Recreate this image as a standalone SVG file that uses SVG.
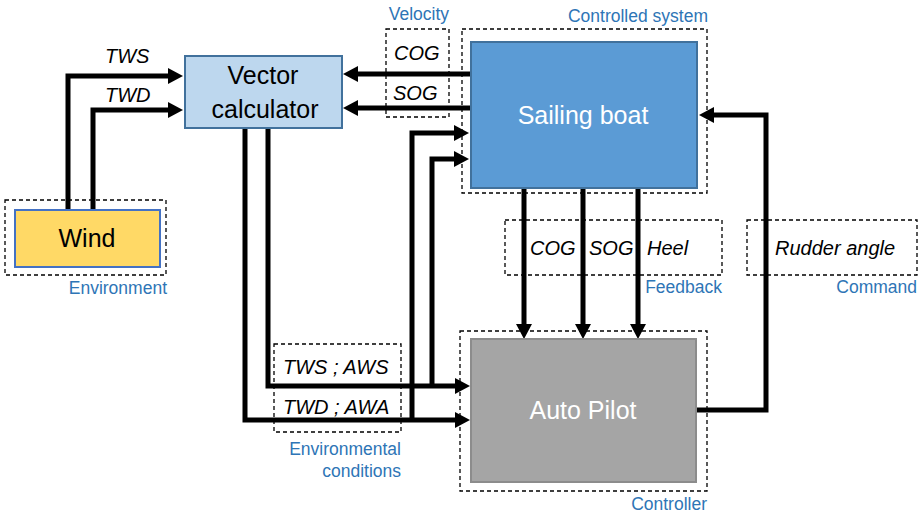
<svg xmlns="http://www.w3.org/2000/svg" width="919" height="514" viewBox="0 0 919 514">
<style>
.dash{fill:none;stroke:#000;stroke-width:1.3;stroke-dasharray:4,3}
.conn{fill:none;stroke:#000;stroke-width:5;marker-end:url(#ah)}
.big{font-family:"Liberation Sans",Arial,sans-serif;font-size:25px;text-anchor:middle}
.lbl{font-family:"Liberation Sans",Arial,sans-serif;font-size:20px;font-style:italic;fill:#000}
.grp{font-family:"Liberation Sans",Arial,sans-serif;font-size:17.5px;fill:#2E75B6;text-anchor:end}
</style>
<defs>
<marker id="ah" markerUnits="userSpaceOnUse" markerWidth="16" markerHeight="17" refX="5" refY="8" orient="auto">
<path d="M0,0 L15,8 L0,16 z" fill="#000"/>
</marker>
</defs>
<rect width="919" height="514" fill="#fff"/>

<g id="group-boxes">
<rect class="dash" x="5" y="200" width="161" height="75"/>
<text class="grp" x="167" y="294">Environment</text>
<rect class="dash" x="386" y="29" width="63" height="88"/>
<text class="grp" x="449" y="20">Velocity</text>
<rect class="dash" x="462" y="29" width="245" height="164"/>
<text class="grp" x="708" y="22">Controlled system</text>
<rect class="dash" x="505" y="220" width="217" height="55"/>
<text class="grp" x="722" y="293">Feedback</text>
<rect class="dash" x="747" y="220" width="170" height="55"/>
<text class="grp" x="917" y="293">Command</text>
<rect class="dash" x="274" y="344" width="127" height="88"/>
<text class="grp" x="401" y="455">Environmental</text>
<text class="grp" x="401" y="477">conditions</text>
<rect class="dash" x="460" y="331" width="247" height="160"/>
<text class="grp" x="707" y="510">Controller</text>
</g>

<g id="connectors">
<path class="conn" d="M68,209 V76 H173"/>
<path class="conn" d="M93,209 V110 H173"/>
<path class="conn" d="M470,74 H353"/>
<path class="conn" d="M470,108 H353"/>
<path class="conn" d="M268,128 V386 H460"/>
<path class="conn" d="M245,128 V420 H460"/>
<path class="conn" d="M432,386 V159 H459"/>
<path class="conn" d="M412,420 V133 H459"/>
<path class="conn" d="M524,188 V329"/>
<path class="conn" d="M583,188 V329"/>
<path class="conn" d="M638,188 V329"/>
<path class="conn" d="M696,410 H766 V115 H709"/>
</g>

<g id="labels">
<text class="lbl" x="105" y="63">TWS</text>
<text class="lbl" x="105" y="102">TWD</text>
<text class="lbl" x="394" y="60">COG</text>
<text class="lbl" x="393" y="100">SOG</text>
<text class="lbl" x="530" y="255">COG</text>
<text class="lbl" x="589" y="255">SOG</text>
<text class="lbl" x="647" y="255">Heel</text>
<text class="lbl" x="775" y="255">Rudder angle</text>
<text class="lbl" x="283" y="374">TWS ; AWS</text>
<text class="lbl" x="283" y="414">TWD ; AWA</text>
</g>

<g id="wind">
<rect x="15" y="210" width="145" height="57" fill="#FFD966" stroke="#4472C4" stroke-width="2"/>
<text class="big" x="87" y="247" font-size="26">Wind</text>
</g>
<g id="vector-calculator">
<rect x="185" y="56" width="157" height="72" fill="#BDD7EE" stroke="#41719C" stroke-width="2"/>
<text class="big" x="263" y="84">Vector</text>
<text class="big" x="265" y="118">calculator</text>
</g>
<g id="sailing-boat">
<rect x="471" y="42" width="226" height="146" fill="#5B9BD5" stroke="#41719C" stroke-width="2"/>
<text class="big" x="583" y="124" fill="#fff">Sailing boat</text>
</g>
<g id="auto-pilot">
<rect x="471" y="339" width="225" height="143" fill="#A5A5A5" stroke="#8C8C8C" stroke-width="2"/>
<text class="big" x="583" y="419" fill="#fff">Auto Pilot</text>
</g>
</svg>
